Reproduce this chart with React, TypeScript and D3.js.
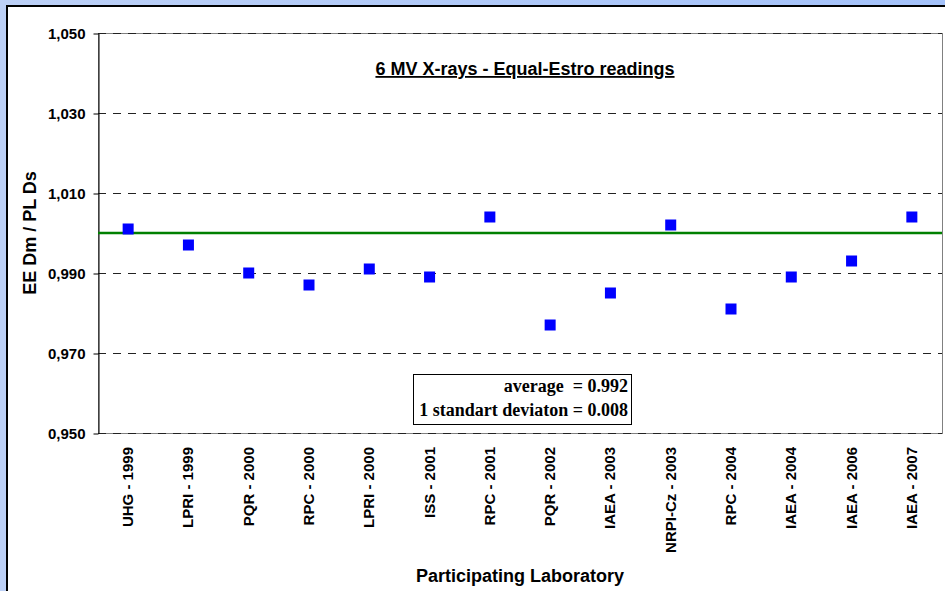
import * as d3 from 'd3'
import { useEffect, useRef } from 'react'

// participating labs and the measured ratios
const labs = [
  'UHG - 1999',
  'LPRI - 1999',
  'PQR - 2000',
  'RPC - 2000',
  'LPRI - 2000',
  'ISS - 2001',
  'RPC - 2001',
  'PQR - 2002',
  'IAEA - 2003',
  'NRPI-Cz - 2003',
  'RPC - 2004',
  'IAEA - 2004',
  'IAEA - 2006',
  'IAEA - 2007',
]
const ratios = [1.001, 0.997, 0.99, 0.987, 0.991, 0.989, 1.004, 0.977, 0.985, 1.002, 0.981, 0.989, 0.993, 1.004]
const yTicks = [0.95, 0.97, 0.99, 1.01, 1.03, 1.05]
const reference = 1.0
const statLines = ['average  = 0.992', '1 standart deviaton = 0.008']

const W = 945
const H = 591

export default function App() {
  const ref = useRef<SVGSVGElement>(null)

  useEffect(() => {
    const svg = d3.select(ref.current)
    svg.selectAll('*').remove()

    const margin = { left: 98, top: 33, right: 942, bottom: 433 }
    const x = d3.scaleBand<string>().domain(labs).range([margin.left, margin.right])
    const y = d3.scaleLinear().domain([0.95, 1.05]).range([margin.bottom, margin.top])
    const fmt = d3.formatLocale({ decimal: ',', thousands: '.', grouping: [3], currency: ['', ''] }).format('.3f')

    // background
    const defs = svg.append('defs')
    const grad = defs.append('linearGradient').attr('id', 'bg').attr('x1', 0).attr('y1', 0).attr('x2', 1).attr('y2', 0)
    grad.append('stop').attr('offset', '0%').attr('stop-color', '#bcd0f6')
    grad.append('stop').attr('offset', '100%').attr('stop-color', '#a4c2fa')
    svg.append('rect').attr('width', W).attr('height', H).attr('fill', 'url(#bg)')

    // white panel
    svg.append('rect')
      .attr('x', 7).attr('y', 6).attr('width', W + 20).attr('height', H + 20)
      .attr('fill', '#fff').attr('stroke', '#000').attr('stroke-width', 2)

    // plot frame
    svg.append('rect')
      .attr('x', margin.left + 0.5).attr('y', margin.top + 0.5)
      .attr('width', margin.right - margin.left).attr('height', margin.bottom - margin.top)
      .attr('fill', '#fff').attr('stroke', '#808080').attr('stroke-width', 1)

    // gridlines
    svg.append('g')
      .selectAll('line')
      .data(yTicks)
      .join('line')
      .attr('x1', margin.left).attr('x2', margin.right)
      .attr('y1', d => Math.round(y(d)) + 0.5).attr('y2', d => Math.round(y(d)) + 0.5)
      .attr('stroke', '#222').attr('stroke-dasharray', '8,7')

    // y axis
    const yAxis = svg.append('g')
      .attr('transform', `translate(${margin.left + 0.5},0.5)`)
      .call(d3.axisLeft(y).tickValues(yTicks).tickFormat(d => fmt(+d)).tickSize(5).tickSizeOuter(0).tickPadding(8))
    yAxis.select('.domain').attr('stroke', '#000')
    yAxis.selectAll('line').attr('stroke', '#000')
    yAxis.selectAll('text')
      .attr('font-family', 'Liberation Sans, Arial, sans-serif')
      .attr('font-weight', 'bold').attr('font-size', 15).attr('fill', '#000')

    // x labels
    svg.append('g')
      .selectAll('text')
      .data(labs)
      .join('text')
      .attr('transform', d => `translate(${x(d)! + x.bandwidth() / 2 + 5},447) rotate(-90)`)
      .attr('text-anchor', 'end')
      .attr('font-family', 'Liberation Sans, Arial, sans-serif')
      .attr('font-weight', 'bold').attr('font-size', 15)
      .text(d => d)

    // reference line
    svg.append('line')
      .attr('x1', margin.left).attr('x2', margin.right)
      .attr('y1', y(reference)).attr('y2', y(reference))
      .attr('stroke', '#008000').attr('stroke-width', 2.5)

    // points
    const s = 11
    svg.append('g')
      .selectAll('rect')
      .data(ratios)
      .join('rect')
      .attr('x', (d, i) => x(labs[i])! + x.bandwidth() / 2 - s / 2)
      .attr('y', d => y(d) - s / 2)
      .attr('width', s).attr('height', s)
      .attr('fill', '#0000ff')

    // title
    svg.append('text')
      .attr('x', 525).attr('y', 75)
      .attr('text-anchor', 'middle')
      .attr('font-family', 'Liberation Sans, Arial, sans-serif')
      .attr('font-weight', 'bold').attr('font-size', 18)
      .attr('text-decoration', 'underline')
      .text('6 MV X-rays - Equal-Estro readings')

    // stats box
    svg.append('rect')
      .attr('x', 413.5).attr('y', 374.5).attr('width', 218).attr('height', 50)
      .attr('fill', '#fff').attr('stroke', '#000')
    svg.append('g')
      .selectAll('text')
      .data(statLines)
      .join('text')
      .attr('x', 628).attr('y', (d, i) => 392 + i * 24)
      .attr('text-anchor', 'end')
      .attr('font-family', 'Liberation Serif, Times New Roman, serif')
      .attr('font-weight', 'bold').attr('font-size', 18)
      .attr('xml:space', 'preserve')
      .style('white-space', 'pre')
      .text(d => d)

    // axis titles
    svg.append('text')
      .attr('transform', `translate(36,${(margin.top + margin.bottom) / 2}) rotate(-90)`)
      .attr('text-anchor', 'middle')
      .attr('font-family', 'Liberation Sans, Arial, sans-serif')
      .attr('font-weight', 'bold').attr('font-size', 18)
      .text('EE Dm / PL Ds')
    svg.append('text')
      .attr('x', 520).attr('y', 582)
      .attr('text-anchor', 'middle')
      .attr('font-family', 'Liberation Sans, Arial, sans-serif')
      .attr('font-weight', 'bold').attr('font-size', 18)
      .text('Participating Laboratory')
  }, [])

  return (
    <svg
      ref={ref}
      width={W}
      height={H}
      style={{ position: 'absolute', left: 0, top: 0, display: 'block' }}
    />
  )
}
